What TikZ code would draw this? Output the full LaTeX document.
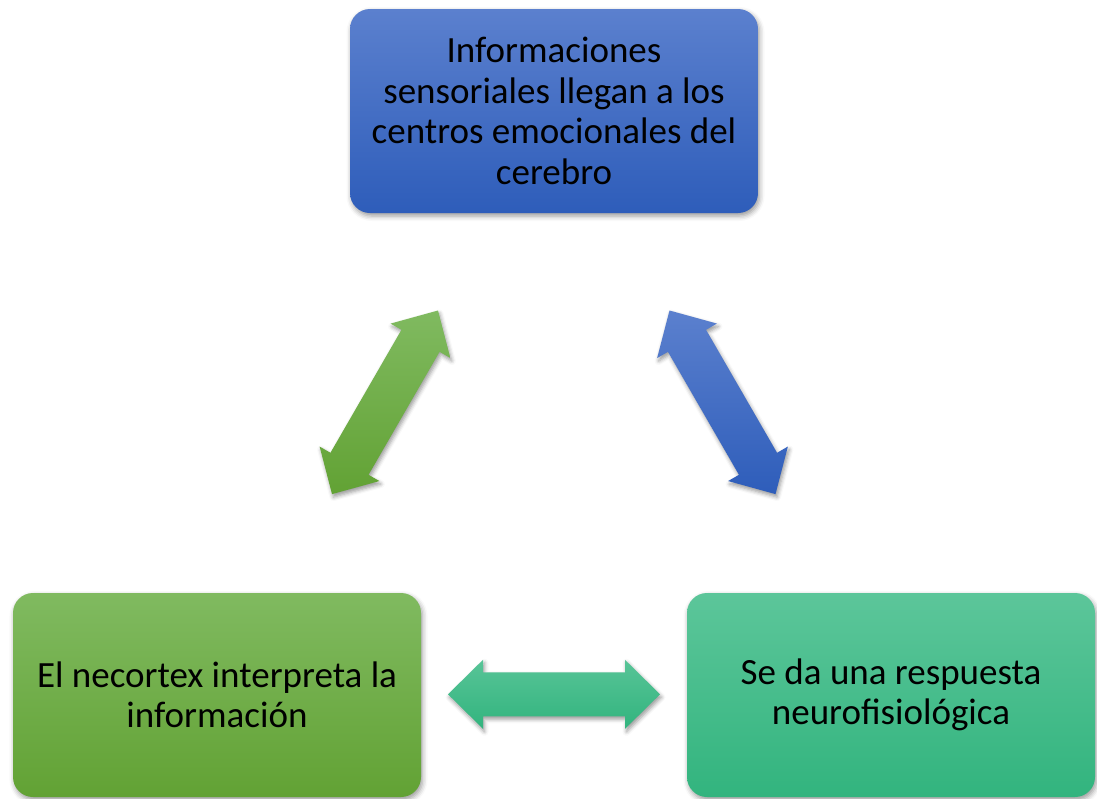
\documentclass[tikz,border=0pt]{standalone}
\usepackage{fontspec}
\setmainfont{Carlito}
\usetikzlibrary{calc,shadows.blur}
\definecolor{bluetop}{HTML}{5B80CE}
\definecolor{bluebot}{HTML}{2E5DBA}
\definecolor{greentop}{HTML}{80BA60}
\definecolor{greenbot}{HTML}{62A234}
\definecolor{tealtop}{HTML}{5CC69A}
\definecolor{tealbot}{HTML}{32B47E}
\tikzset{
  box/.style={rounded corners=20pt, minimum width=408pt, minimum height=204pt,
    align=center, inner sep=0pt, text=black,
    font=\fontsize{37}{40.5}\selectfont,
    blur shadow={shadow xshift=1.5pt, shadow yshift=-3pt, shadow blur radius=5pt, shadow opacity=40}},
  bluefill/.style={top color=bluetop, bottom color=bluebot},
  greenfill/.style={top color=greentop, bottom color=greenbot},
  tealfill/.style={top color=tealtop, bottom color=tealbot},
  arrowshade/.style={blur shadow={shadow xshift=1.5pt, shadow yshift=-3pt, shadow blur radius=4pt, shadow opacity=40}}
}
% block double arrow: center, angle (image coords, y down), style
\newcommand\blockarrow[3]{%
  \path[#3] ($(#1)+(#2:106)$)
    -- ($(#1)+(#2:71)+(#2+90:34.5)$)
    -- ($(#1)+(#2:71)+(#2+90:22)$)
    -- ($(#1)+(#2+180:71)+(#2+90:22)$)
    -- ($(#1)+(#2+180:71)+(#2+90:34.5)$)
    -- ($(#1)+(#2+180:106)$)
    -- ($(#1)+(#2+180:71)+(#2-90:34.5)$)
    -- ($(#1)+(#2+180:71)+(#2-90:22)$)
    -- ($(#1)+(#2:71)+(#2-90:22)$)
    -- ($(#1)+(#2:71)+(#2-90:34.5)$)
    -- cycle;}
\begin{document}
\begin{tikzpicture}[x=1pt,y=-1pt]
\useasboundingbox (0,0) rectangle (1097,798);
\node[box, bluefill] (top) at (554,111) {Informaciones\\sensoriales llegan a los\\centros emocionales del\\cerebro};
\node[box, greenfill] (left) at (217,695) {El necortex interpreta la\\información};
\node[box, tealfill] (right) at (891,695) {Se da una respuesta\\neurofisiológica};
\coordinate (ga) at (385,402.3);
\coordinate (ba) at (722.5,402.3);
\coordinate (ha) at (554,694.3);
\blockarrow{ga}{-60}{arrowshade, top color=greentop, bottom color=greenbot}
\blockarrow{ba}{240}{arrowshade, top color=bluetop, bottom color=bluebot}
\blockarrow{ha}{0}{arrowshade, top color=tealtop!90!tealbot, bottom color=tealbot}
\end{tikzpicture}
\end{document}
